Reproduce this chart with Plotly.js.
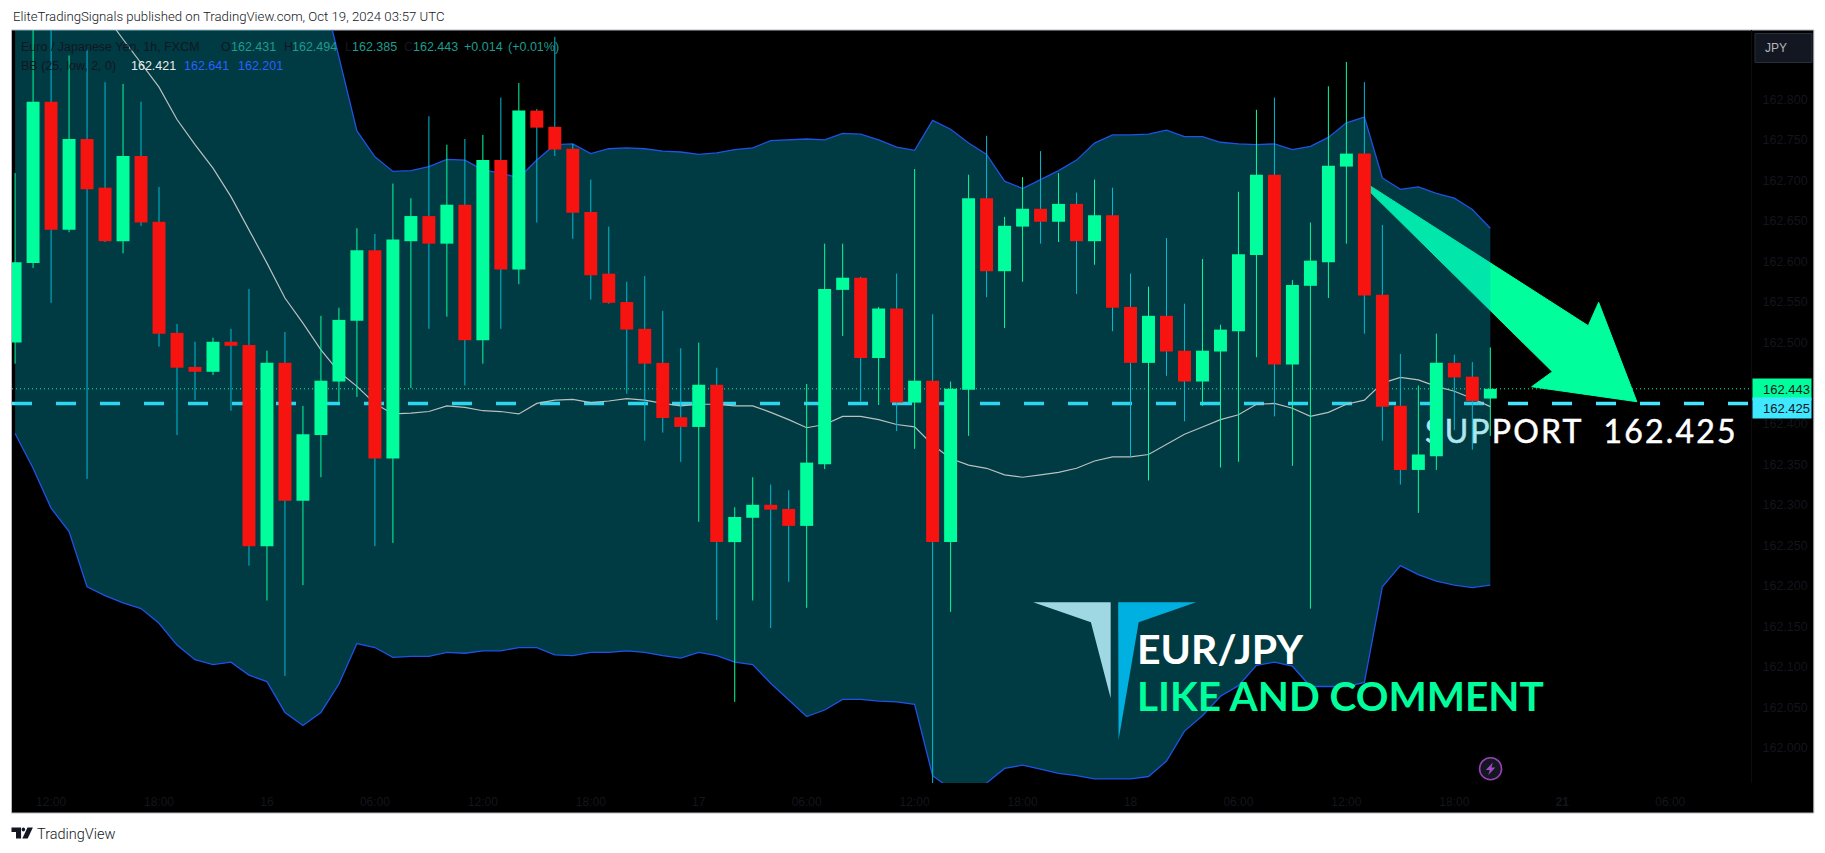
<!DOCTYPE html>
<html>
<head>
<meta charset="utf-8">
<script src="https://cdn.plot.ly/plotly-3.0.1.min.js"></script>
<style>
html,body{margin:0;padding:0;background:#fff;overflow:hidden}
.textpoint text{letter-spacing:2.2px;stroke:#ffffff;stroke-width:0.5px}
</style>
</head>
<body>
<div id="chart" style="width:1825px;height:853px"></div>
<script>
// ---- chart data ----
const opens = [162.500,162.598,162.797,162.639,162.751,162.691,162.625,162.730,162.649,162.512,
162.470,162.464,162.501,162.497,162.249,162.475,162.305,162.386,162.452,162.527,
162.614,162.357,162.625,162.656,162.622,162.670,162.503,162.725,162.590,162.786,
162.766,162.739,162.661,162.585,162.550,162.517,162.475,162.408,162.396,162.448,
162.254,162.284,162.300,162.295,162.274,162.350,162.565,162.580,162.481,162.542,
162.426,162.453,162.254,162.442,162.678,162.588,162.643,162.665,162.649,162.671,
162.625,162.657,162.544,162.475,162.533,162.490,162.452,162.489,162.514,162.608,
162.707,162.473,162.570,162.599,162.717,162.733,162.559,162.422,162.343,162.360,
162.475,162.458,162.431];
const closes = [162.599,162.797,162.639,162.751,162.689,162.625,162.730,162.648,162.511,162.469,
162.464,162.501,162.496,162.249,162.475,162.305,162.387,162.453,162.528,162.614,
162.357,162.627,162.656,162.622,162.670,162.503,162.725,162.590,162.786,162.765,
162.738,162.660,162.583,162.549,162.516,162.474,162.407,162.396,162.448,162.254,
162.285,162.300,162.294,162.274,162.352,162.566,162.580,162.481,162.542,162.426,
162.453,162.254,162.443,162.678,162.588,162.644,162.665,162.649,162.671,162.625,
162.657,162.543,162.475,162.533,162.489,162.452,162.490,162.516,162.609,162.707,
162.473,162.571,162.601,162.718,162.733,162.558,162.421,162.343,162.362,162.475,
162.457,162.428,162.443];
const highs = [162.709,162.888,162.888,162.854,162.861,162.821,162.819,162.797,162.692,162.523,
162.501,162.506,162.517,162.566,162.490,162.513,162.422,162.533,162.543,162.641,
162.634,162.696,162.678,162.779,162.744,162.751,162.756,162.802,162.820,162.788,
162.877,162.745,162.701,162.643,162.575,162.582,162.539,162.493,162.500,162.469,
162.297,162.334,162.325,162.318,162.449,162.622,162.622,162.581,162.544,162.585,
162.714,162.535,162.452,162.707,162.755,162.655,162.704,162.736,162.709,162.685,
162.701,162.691,162.585,162.569,162.629,162.548,162.603,162.522,162.686,162.787,
162.802,162.577,162.648,162.816,162.846,162.821,162.645,162.486,162.447,162.511,
162.485,162.476,162.494];
const lows = [162.474,162.592,162.549,162.636,162.332,162.624,162.610,162.644,162.495,162.386,
162.429,162.460,162.416,162.225,162.182,162.089,162.201,162.334,162.427,162.433,
162.249,162.253,162.444,162.517,162.532,162.447,162.474,162.517,162.572,162.648,
162.730,162.628,162.553,162.548,162.437,162.379,162.389,162.353,162.279,162.158,
162.057,162.182,162.148,162.205,162.173,162.344,162.508,162.427,162.423,162.391,
162.369,161.957,162.168,162.385,162.556,162.518,162.575,162.622,162.624,162.560,
162.596,162.514,162.359,162.330,162.459,162.403,162.422,162.346,162.353,162.482,
162.409,162.348,162.172,162.555,162.622,162.511,162.379,162.325,162.290,162.343,
162.392,162.368,162.385];
const bbUpper = [163.728,163.709,163.697,163.665,163.671,163.620,163.570,163.517,163.475,163.422,
163.378,163.327,163.254,163.187,163.113,163.065,163.019,162.943,162.853,162.761,
162.729,162.711,162.712,162.717,162.726,162.725,162.713,162.709,162.703,162.725,
162.744,162.745,162.733,162.739,162.740,162.739,162.736,162.735,162.732,162.734,
162.738,162.740,162.749,162.750,162.751,162.750,162.758,162.757,162.750,162.741,
162.737,162.774,162.763,162.746,162.732,162.699,162.690,162.701,162.712,162.725,
162.746,162.756,162.756,162.757,162.762,162.754,162.754,162.747,162.745,162.744,
162.745,162.738,162.742,162.753,162.771,162.778,162.703,162.689,162.692,162.684,
162.678,162.664,162.641];
const bbBasis = [163.058,163.027,162.996,162.966,162.935,162.904,162.874,162.844,162.815,162.775,
162.744,162.715,162.680,162.639,162.598,162.555,162.524,162.491,162.464,162.446,
162.425,162.412,162.413,162.415,162.422,162.420,162.416,162.415,162.412,162.425,
162.429,162.430,162.426,162.428,162.431,162.429,162.425,162.422,162.424,162.424,
162.422,162.422,162.414,162.405,162.395,162.399,162.409,162.409,162.405,162.399,
162.396,162.374,162.357,162.349,162.345,162.337,162.334,162.337,162.340,162.345,
162.354,162.359,162.359,162.362,162.374,162.387,162.396,162.405,162.411,162.424,
162.425,162.419,162.409,162.414,162.424,162.429,162.450,162.457,162.454,162.446,
162.440,162.431,162.421];
const bbLower = [162.388,162.345,162.296,162.267,162.199,162.188,162.179,162.172,162.154,162.127,
162.109,162.103,162.106,162.090,162.082,162.044,162.028,162.044,162.079,162.129,
162.124,162.112,162.113,162.113,162.118,162.117,162.120,162.120,162.124,162.124,
162.115,162.114,162.118,162.118,162.120,162.118,162.114,162.111,162.118,162.114,
162.106,162.103,162.080,162.059,162.039,162.047,162.060,162.060,162.058,162.057,
162.054,161.966,161.950,161.948,161.957,161.975,161.979,161.974,161.969,161.966,
161.962,161.962,161.962,161.965,161.984,162.021,162.040,162.064,162.077,162.102,
162.106,162.101,162.076,162.076,162.076,162.081,162.199,162.225,162.214,162.206,
162.201,162.198,162.201];
const xTickBars   = [2,8,14,20,26,32,38,44,50,56,62,68,74,80,86,92];
const xTickLabels = ['12:00','18:00','16','06:00','12:00','18:00','17','06:00','12:00','18:00','18','06:00','12:00','18:00','<b>21</b>','06:00'];
const priceTicks  = [162.0,162.05,162.1,162.15,162.2,162.25,162.3,162.35,162.4,162.45,162.5,162.55,162.6,162.65,162.7,162.75,162.8];
const supportLevel = 162.425;
const lastPrice = 162.443;
const xRange = [-0.172, 96.49];
const yRange = [161.957, 162.8854];

// ---- styling / layout helpers ----
const GREEN='#00ff9c', RED='#f7130f', CYANWICK='#00bcd4', BLUE='#1e53e5', DASH='#40e8ff', FAINT='#13151c';
const L=11.5,R=1751,T=30,B=783;
const xp=X=>(X-L)/(R-L), yp=Y=>(B-Y)/(B-T);
const poly=pts=>'M'+pts.map(p=>xp(p[0]).toFixed(5)+','+yp(p[1]).toFixed(5)).join(' L')+' Z';
const barIdx=opens.map((_,i)=>i);
function wicks(isUp){
  const xs=[],ys=[];
  barIdx.forEach(i=>{ if((closes[i]>=opens[i])===isUp){xs.push(i,i,null);ys.push(lows[i],highs[i],null);} });
  return {xs,ys};
}
const upW=wicks(true), dnW=wicks(false);
const pxToBar=X=>xRange[0]+(X-L)/(R-L)*(xRange[1]-xRange[0]);

const traces=[
 {x:[pxToBar(1425)],y:[162.386],mode:'text',text:['SUPPORT  162.425'],textposition:'middle right',
  textfont:{family:'Lato, sans-serif',size:32,color:'#ffffff'},cliponaxis:false,hoverinfo:'skip',showlegend:false},
 {x:barIdx,y:bbLower,mode:'lines',line:{color:BLUE,width:1.3},showlegend:false,hoverinfo:'skip'},
 {x:barIdx,y:bbUpper,mode:'lines',line:{color:BLUE,width:1.3},fill:'tonexty',fillcolor:'rgba(0,178,203,0.325)',showlegend:false,hoverinfo:'skip'},
 {x:barIdx,y:bbBasis,mode:'lines',line:{color:'#b9c0c0',width:1.2},showlegend:false,hoverinfo:'skip'},
 {x:xRange,y:[lastPrice,lastPrice],mode:'lines',line:{color:GREEN,width:1,dash:'1px,3px'},showlegend:false,hoverinfo:'skip'},
 {x:dnW.xs,y:dnW.ys,mode:'lines',line:{color:CYANWICK,width:1},connectgaps:false,showlegend:false,hoverinfo:'skip'},
 {x:upW.xs,y:upW.ys,mode:'lines',line:{color:GREEN,width:1},connectgaps:false,showlegend:false,hoverinfo:'skip'},
 {type:'bar',xaxis:'x2',yaxis:'y2',x:barIdx,base:barIdx.map(i=>Math.min(opens[i],closes[i])),
  y:barIdx.map(i=>Math.abs(closes[i]-opens[i])),width:0.72,
  marker:{color:barIdx.map(i=>closes[i]>=opens[i]?GREEN:RED),line:{width:0}},showlegend:false,hoverinfo:'skip'}
];

const shapes=[
 {type:'rect',xref:'paper',yref:'paper',x0:xp(11),x1:xp(1813.8),y0:yp(30),y1:yp(813),fillcolor:'#000',line:{color:'#b5b7bd',width:1},layer:'below'},
 {type:'path',xref:'paper',yref:'paper',layer:'below',fillcolor:GREEN,line:{color:GREEN,width:1},
  path:poly([[1364,182],[1588.2,325.7],[1598.6,302.3],[1636.8,401.7],[1531.6,386.7],[1552.3,371.7],[1364,186]])},
 {type:'line',xref:'paper',yref:'y',layer:'below',x0:0,x1:1,y0:supportLevel,y1:supportLevel,line:{color:DASH,width:3.5,dash:'20px,24px'}},
 // logo
 {type:'path',xref:'paper',yref:'paper',fillcolor:'#9fd8e3',line:{width:0},path:poly([[1033,602.3],[1110.5,602.3],[1110.5,698.3],[1090.7,622.3]])},
 {type:'path',xref:'paper',yref:'paper',fillcolor:'#00b0e0',line:{width:0},path:poly([[1118,602.3],[1195.9,602.3],[1138.5,622.3],[1118.4,740]])},
 // currency button
 {type:'rect',xref:'paper',yref:'paper',x0:xp(1755),x1:xp(1812),y0:yp(33.5),y1:yp(62.5),fillcolor:'#131722',line:{color:'#2a2e39',width:1}},
 // dividend / earnings marker
 {type:'circle',xref:'paper',yref:'paper',x0:xp(1479.5),x1:xp(1501.5),y0:yp(757.7),y1:yp(779.7),fillcolor:'#131722',line:{color:'#9c3fb5',width:1.6}},
 {type:'path',xref:'paper',yref:'paper',fillcolor:'#a24bc0',line:{width:0},path:poly([[1492.8,762.5],[1485.7,770],[1489.7,770],[1488.2,775],[1495.3,767.5],[1491.3,767.5]])},
 // TradingView logo
 {type:'path',xref:'paper',yref:'paper',fillcolor:'#131722',line:{width:0},path:poly([[11,827.5],[20.6,827.5],[20.6,838.5],[15.5,838.5],[15.5,832],[11,832]])},
 {type:'circle',xref:'paper',yref:'paper',x0:xp(21.2),x1:xp(24.6),y0:yp(827.6),y1:yp(831.4),fillcolor:'#131722',line:{width:0}},
 {type:'path',xref:'paper',yref:'paper',fillcolor:'#131722',line:{width:0},path:poly([[27,827.5],[32.4,827.5],[27.2,838.5],[21.8,838.5]])}
];

function ann(text,X,Y,color,size,extra){
  return Object.assign({xref:'paper',yref:'paper',x:xp(X),y:yp(Y),xanchor:'left',yanchor:'middle',showarrow:false,text:text,
    font:{family:'Liberation Sans, Arial, sans-serif',size:size||12,color:color},align:'left',borderpad:0},extra||{});
}
const legendDark='#131722', teal='#1e9c8d', lblue='#2962ff';
const annotations=[
 ann('EliteTradingSignals published on TradingView.com, Oct 19, 2024 03:57 UTC',11,16.5,'#131722',13,{font:{family:'Roboto, sans-serif',size:13.2,weight:300,color:'#131722'}}),
 ann('TradingView',36,834,'#131722',14,{font:{family:'Roboto, sans-serif',size:14.5,weight:300,color:'#131722'}}),
 ann('Euro / Japanese Yen, 1h, FXCM',20,46.7,legendDark,12.5),
 ann('O',220,46.7,legendDark,12.5),ann('162.431',229.5,46.7,teal,12.5),
 ann('H',283,46.7,legendDark,12.5),ann('162.494',291,46.7,teal,12.5),
 ann('L',344,46.7,legendDark,12.5),ann('162.385',351,46.7,teal,12.5),
 ann('C',403,46.7,legendDark,12.5),ann('162.443',412,46.7,teal,12.5),
 ann('+0.014',463,46.7,teal,12.5),ann('(+0.01%)',507,46.7,teal,12.5),
 ann('BB (25, low, 2, 0)',20,65.7,legendDark,12.5),
 ann('162.421',130,65.7,'#e8ecec',12.5),ann('162.641',183,65.7,lblue,12.5),ann('162.201',237,65.7,lblue,12.5),
 ann('JPY',1764,48,'#b2b5be',12),
 ann('EUR/JPY',1136,648,'#ffffff',41,{font:{family:'Lato, sans-serif',size:41,weight:700,color:'#ffffff'}}),
 ann('LIKE AND COMMENT',1136,695,GREEN,41,{font:{family:'Lato, sans-serif',size:40.5,weight:700,color:GREEN}}),
 ann('162.443',1752,389.5,'#131722',13,{bgcolor:GREEN,width:56,height:19,xanchor:'left',align:'right',borderpad:1}),
 ann('162.425',1752,408,'#131722',13,{bgcolor:DASH,width:56,height:18,xanchor:'left',align:'right',borderpad:1})
];

const layout={
 width:1825,height:853,autosize:false,
 paper_bgcolor:'#ffffff',plot_bgcolor:'#000000',
 margin:{l:L,r:1825-R,t:T,b:853-B,pad:0},
 showlegend:false,barmode:'overlay',
 xaxis:{range:xRange,fixedrange:true,showgrid:false,zeroline:false,showline:false,
   tickmode:'array',tickvals:xTickBars,ticktext:xTickLabels,ticks:'outside',ticklen:8,tickcolor:'#000',
   tickfont:{family:'Liberation Sans, Arial, sans-serif',size:12,color:FAINT}},
 yaxis:{range:yRange,fixedrange:true,side:'right',showgrid:false,zeroline:false,showline:true,linecolor:'#0c0d10',linewidth:1,
   tickmode:'array',tickvals:priceTicks,tickformat:'.3f',ticks:'outside',ticklen:8,tickcolor:'#000',
   tickfont:{family:'Liberation Sans, Arial, sans-serif',size:12.5,color:FAINT}},
 xaxis2:{range:xRange,overlaying:'x',anchor:'y2',visible:false,fixedrange:true},
 yaxis2:{range:yRange,overlaying:'y',anchor:'x2',visible:false,fixedrange:true,side:'right'},
 shapes:shapes,annotations:annotations
};
Plotly.newPlot('chart',traces,layout,{displayModeBar:false,staticPlot:true});
</script>
</body>
</html>
